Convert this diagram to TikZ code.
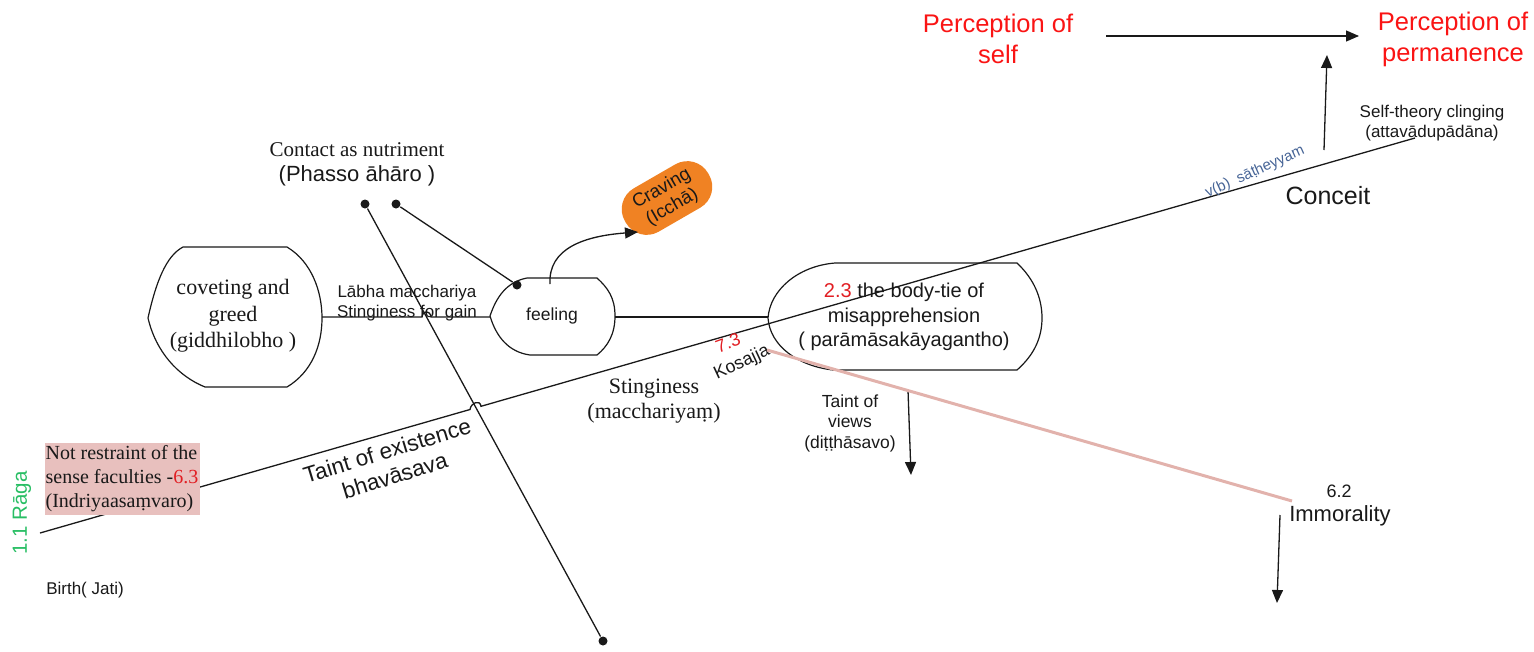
\documentclass[tikz,border=0pt]{standalone}
\usepackage{fontspec}
\setmainfont{Liberation Serif}
\setsansfont{Liberation Sans}
\usetikzlibrary{arrows.meta}
\definecolor{ink}{RGB}{25,25,25}
\definecolor{pred}{RGB}{250,20,20}
\definecolor{numred}{RGB}{225,30,35}
\definecolor{ragagreen}{RGB}{40,190,100}
\definecolor{cravorange}{RGB}{240,130,35}
\definecolor{steelblue}{RGB}{70,100,150}
\definecolor{pinkbox}{RGB}{232,192,190}
\definecolor{pinkline}{RGB}{226,178,172}
\newcommand{\myfs}[2]{\fontsize{#1}{#2}\selectfont}
\begin{document}
\begin{tikzpicture}[x=1pt,y=-1pt,line width=1.3pt,draw=ink,
  arr/.style={-{Triangle[length=13pt,width=11pt]}},
  dotnode/.style={circle,fill=ink,draw=none,inner sep=0pt,minimum size=9pt},
  shapeline/.style={draw=ink,line width=1.2pt},
  slbl/.style={font=\sffamily,text=ink,align=center,inner sep=0pt},
  rlbl/.style={font=\rmfamily,text=ink,align=center,inner sep=0pt}]
\useasboundingbox (0,0) rectangle (1534,651);

% ---------- main diagonal line with jump ----------
\coordinate (mainA) at (40,533);
\coordinate (mainJ1) at (470,409.5);
\coordinate (mainJ2) at (481,406.3);
\coordinate (mainB) at (1415,138);
\draw (mainA) -- (mainJ1) .. controls +(1,-7) and +(-1,-7) .. (mainJ2) -- (mainB);

% ---------- second diagonal with dots ----------
\node[dotnode] (dotA) at (365,204) {};
\node[dotnode] (dotB) at (603,641) {};
\draw (dotA) -- (dotB);
\node[dotnode] (dotC) at (396,204) {};
\node[dotnode] (dotD) at (517,285) {};
\draw (dotC) -- (dotD);

% ---------- shapes ----------
% coveting and greed
\draw[shapeline] (148,318) .. controls (156,282) and (166,256) .. (183,247) -- (287,247)
  .. controls (312,262) and (322,292) .. (322,318)
  .. controls (322,345) and (312,372) .. (287,387) -- (205,387)
  .. controls (178,376) and (156,352) .. (148,318) -- cycle;
\coordinate (covR) at (322,317);
% feeling
\draw[shapeline] (490,316) .. controls (496,298) and (506,282) .. (527,278) -- (597,278)
  .. controls (608,288) and (615,298) .. (615,316)
  .. controls (615,334) and (608,346) .. (597,355) -- (530,355)
  .. controls (508,352) and (496,336) .. (490,316) -- cycle;
\coordinate (feelL) at (490,317);
\coordinate (feelR) at (615,317);
\coordinate (feelTop) at (550,284);
% body-tie
\draw[shapeline] (768,318) .. controls (770,290) and (798,266) .. (835,263) -- (1017,263)
  .. controls (1034,279) and (1042,298) .. (1042,318)
  .. controls (1042,338) and (1034,355) .. (1017,370) -- (833,370)
  .. controls (798,366) and (770,346) .. (768,318) -- cycle;
\coordinate (bodyL) at (768,317);

% horizontal connectors
\coordinate (hJ1) at (422,317);
\coordinate (hJ2) at (431,317);
\draw (covR) -- (hJ1) .. controls +(1,-7) and +(-1,-7) .. (hJ2) -- (feelL);
\draw (feelR) -- (bodyL);

% ---------- craving ----------
\node[fill=cravorange,draw=none,rounded corners=24pt,minimum width=96pt,minimum height=50pt,
  rotate=30,font=\sffamily\myfs{18.5}{21},text=ink,align=center,inner sep=2pt]
  (craving) at (667,198) {Craving\\(Icchā)};
\coordinate (cravTip) at (638,232);
\draw[arr] (feelTop) .. controls (548,248) and (585,236) .. (cravTip);

% ---------- top texts ----------
\node[slbl,font=\sffamily\myfs{25.5}{31},text=pred] (pself) at (998,39) {Perception of\\self};
\node[slbl,font=\sffamily\myfs{25.5}{31},text=pred] (pperm) at (1453,39) {Perception of\\permanence};
\coordinate (arrS) at (1106,36);
\coordinate (arrE) at (1359,36);
\draw[arr] (arrS) -- (arrE);
\coordinate (vupS) at (1324,150);
\coordinate (vupE) at (1327,55);
\draw[arr] (vupS) -- (vupE);

\node[slbl,font=\sffamily\myfs{17}{20}] (selftheory) at (1432,123) {Self-theory clinging\\(attavādupādāna)};
\node[slbl,font=\sffamily\myfs{25}{30}] (conceit) at (1328,196) {Conceit};
\node[slbl,font=\sffamily\myfs{15}{18},text=steelblue,rotate=24] (satheyyam) at (1255,172) {v(b)\ \ sāṭheyyam};

% ---------- left texts ----------
\node[rlbl,font=\rmfamily\myfs{21}{24}] (contact) at (357,150) {Contact as nutriment};
\node[slbl,font=\sffamily\myfs{22}{25}] (phasso) at (357,176) {(Phasso āhāro )};
\node[rlbl,font=\rmfamily\myfs{22}{26.5}] (coveting) at (233,316) {coveting and\\greed\\(giddhilobho )};
\node[slbl,font=\sffamily\myfs{17}{19.5}] (labha) at (407,303) {Lābha macchariya\\Stinginess for gain};
\node[slbl,font=\sffamily\myfs{17.5}{20}] (feeling) at (552,316) {feeling};
\node[slbl,font=\sffamily\myfs{20}{24.5}] (bodytie) at (904,317) {\textcolor{numred}{2.3} the body-tie of\\misapprehension\\( parāmāsakāyagantho)};
\node[rlbl,font=\rmfamily\myfs{22}{25}] (stinginess) at (654,401) {Stinginess\\(macchariyaṃ)};
\node[slbl,font=\sffamily\myfs{22.5}{26},rotate=17] (taintexist) at (391,463) {Taint of existence\\bhavāsava};
\node[slbl,font=\sffamily\myfs{18}{20},text=numred,rotate=20] (n73) at (728,343) {7.3};
\node[slbl,font=\sffamily\myfs{18}{20},rotate=25] (kosajja) at (742,363) {Kosajja};

\node[fill=pinkbox,draw=none,minimum width=155pt,minimum height=72pt,inner sep=1pt,
  font=\rmfamily\myfs{20}{24},text=ink,align=left] (restraint) at (122,479)
  {Not restraint of the\\sense faculties -\textcolor{numred}{6.3}\\(Indriyaasaṃvaro)};
\node[slbl,font=\sffamily\myfs{20.5}{24},text=ragagreen,rotate=90] (raga) at (22,513) {1.1 Rāga};
\node[slbl,font=\sffamily\myfs{17}{20}] (birth) at (85,590) {Birth( Jati)};

% ---------- right lower ----------
\node[slbl,font=\sffamily\myfs{17.5}{20.5}] (taintviews) at (850,423) {Taint of\\views\\(diṭṭhāsavo)};
\coordinate (tvS) at (908,390);
\coordinate (tvE) at (911,475);
\draw[arr] (tvS) -- (tvE);

\node[slbl,font=\sffamily\myfs{18}{20}] (n62) at (1339,491) {6.2};
\node[slbl,font=\sffamily\myfs{22}{25}] (immorality) at (1340,516) {Immorality};
\coordinate (imS) at (1280,515);
\coordinate (imE) at (1277,603);
\draw[arr] (imS) -- (imE);

\coordinate (pinkS) at (767,350);
\coordinate (pinkE) at (1292,501);
\draw[pinkline,line width=3pt] (pinkS) -- (pinkE);
\end{tikzpicture}
\end{document}
